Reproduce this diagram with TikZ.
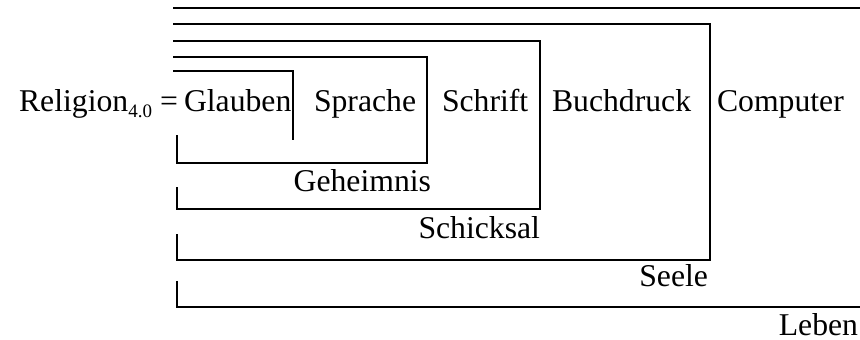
\documentclass[tikz,border=0pt]{standalone}
\usepackage{fontspec}
\setmainfont{Liberation Serif}
\newcommand{\mysub}[1]{\raisebox{-3pt}{\fontsize{9.5}{11}\selectfont #1}}
\begin{document}
\begin{tikzpicture}[x=0.5pt,y=-0.5pt,
  bracket/.style={draw=black,line width=1pt,line join=miter},
  lbl/.style={inner sep=0pt,outer sep=0pt,text depth=0pt,font=\fontsize{15.85}{19}\selectfont}]
\useasboundingbox (0,0) rectangle (860,340);
% brackets
\draw[bracket] (173,71) -- (293,71) -- (293,140);
\draw[bracket] (173,57) -- (427,57) -- (427,163) -- (177,163) -- (177,135);
\draw[bracket] (173,41) -- (540,41) -- (540,209) -- (177,209) -- (177,187);
\draw[bracket] (173,24) -- (710,24) -- (710,260) -- (177,260) -- (177,234);
\draw[bracket] (173,8) -- (860,8);
\draw[bracket] (177,281) -- (177,307) -- (860,307);
% labels
\node[lbl,anchor=base east] (rel) at (152,112) {Religion\mysub{4.0}};
\node[lbl,anchor=base west] (eq) at (160,112) {=};
\node[lbl,anchor=base west] (glauben) at (184,112) {Glauben};
\node[lbl,anchor=base west] (sprache) at (314,112) {Sprache};
\node[lbl,anchor=base west] (schrift) at (442,112) {Schrift};
\node[lbl,anchor=base west] (buchdruck) at (552,112) {Buchdruck};
\node[lbl,anchor=base west] (computer) at (717,112) {Computer};
\node[lbl,anchor=base east] (geheimnis) at (431,192) {Geheimnis};
\node[lbl,anchor=base east] (schicksal) at (540,239) {Schicksal};
\node[lbl,anchor=base east] (seele) at (708,287) {Seele};
\node[lbl,anchor=base east] (leben) at (858,336) {Leben};
\end{tikzpicture}
\end{document}
